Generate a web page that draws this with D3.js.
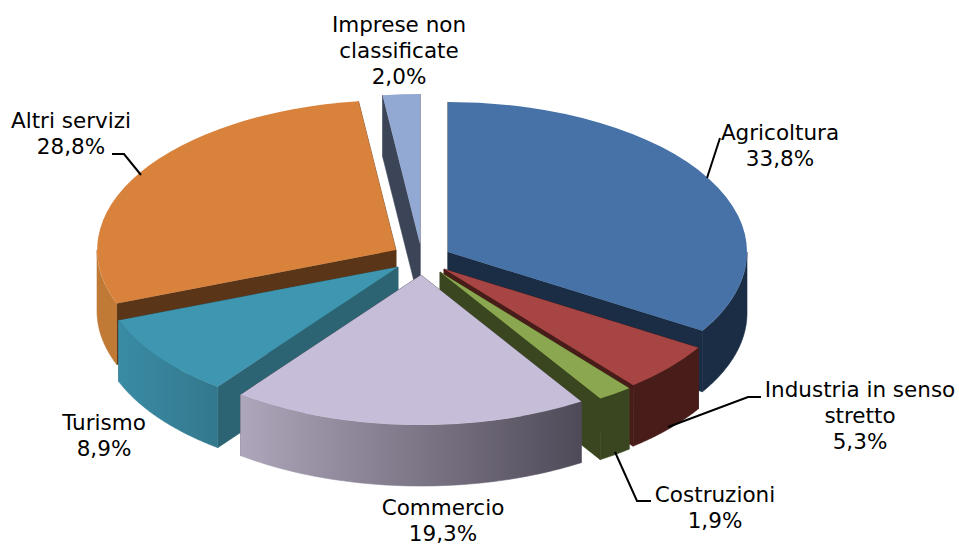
<!DOCTYPE html>
<html>
<head>
  <meta charset="UTF-8">
  <style>
    html, body { margin: 0; background: #fff; }
    svg { display: block; }
    text { font-family: "DejaVu Sans", Verdana, sans-serif; font-size: 21.5px; fill: #000; text-anchor: middle; }
  </style>
</head>
<body>
<svg></svg>
<script src="https://d3js.org/d3.v7.min.js"></script>

<script>

// Data
const categories = ["Agricoltura", "Industria in senso stretto", "Costruzioni", "Commercio", "Turismo", "Altri servizi", "Imprese non classificate"];
const shares = [33.8, 5.3, 1.9, 19.3, 8.9, 28.8, 2.0];
const labelText = ["33,8%", "5,3%", "1,9%", "19,3%", "8,9%", "28,8%", "2,0%"];

// Styling and layout, same order as categories
const topColors = ["#4672a8", "#a74544", "#8ba74f", "#c6bed8", "#3f96b0", "#d9823c", "#92a9d3"];
const faceColors = ["#1a2d45", "#471c19", "#3a461f", "#4f4a58", "#2c6474", "#5a3517", "#3c4558"];
const wallStops = [
    ["#1a2d45", "#1a2d45"],
    ["#471c19", "#471c19"],
    ["#3a461f", "#3a461f"],
    ["#aea6ba", "#4f4a58"],
    ["#3a8ba5", "#33788c"],
    ["#c07a35", "#c07a35"],
    ["#3c4558", "#3c4558"]
];
// where each exploded wedge has its point
const apex = [[448, 252], [444, 269], [440, 272], [421, 275], [398, 267], [396, 250], [420, 244]];
const labelLines = [
    ["Agricoltura", labelText[0]],
    ["Industria in senso", "stretto", labelText[1]],
    ["Costruzioni", labelText[2]],
    ["Commercio", labelText[3]],
    ["Turismo", labelText[4]],
    ["Altri servizi", labelText[5]],
    ["Imprese non", "classificate", labelText[6]]
];
const labelPos = [[780, 140], [860, 397], [715, 502], [443, 515], [104, 430], [71, 128], [399, 32]];
const leaders = [
    [[720, 138], [707, 178]],
    [[761, 397], [748, 397], [668, 427]],
    [[651, 501], [637, 501], [615, 452]],
    [],
    [],
    [[112, 154], [124, 154], [141, 175]],
    []
];
// back to front
const drawOrder = [5, 6, 0, 4, 1, 2, 3];

const width = 959, height = 545;
const rx = 299, ry = 150, depth = 61;

let svg = d3.select("svg")
    .attr("width", width)
    .attr("height", height)
    .attr("viewBox", "0 0 " + width + " " + height);

const slices = d3.pie().sort(null).startAngle(0).endAngle(2 * Math.PI)(shares);

// d3 pie angles: 0 at the top, clockwise. Squash the circle into an ellipse.
const unitArc = d3.arc().innerRadius(0).outerRadius(1);
const line = d3.line();

function rim(i, a, drop) {
    return [apex[i][0] + rx * Math.sin(a), apex[i][1] - ry * Math.cos(a) + drop];
}

function wallPoints(i, a0, a1) {
    const angles = d3.range(0, 61).map(k => a0 + (a1 - a0) * k / 60);
    return angles.map(a => rim(i, a, 0)).concat(angles.reverse().map(a => rim(i, a, depth)));
}

function radialFace(i, a) {
    const c = apex[i], p = rim(i, a, 0);
    return [c, p, [p[0], p[1] + depth], [c[0], c[1] + depth]];
}

const defs = svg.append("defs");
slices.forEach((s, i) => {
    const x0 = rim(i, Math.max(s.startAngle, Math.PI / 2), 0)[0];
    const x1 = rim(i, Math.min(s.endAngle, 3 * Math.PI / 2), 0)[0];
    const g = defs.append("linearGradient")
        .attr("id", "wall" + i)
        .attr("gradientUnits", "userSpaceOnUse")
        .attr("x1", Math.min(x0, x1)).attr("x2", Math.max(x0, x1))
        .attr("y1", 0).attr("y2", 0);
    g.append("stop").attr("offset", 0).attr("stop-color", wallStops[i][0]);
    g.append("stop").attr("offset", 1).attr("stop-color", wallStops[i][1]);
});

const pie3d = svg.append("g").attr("id", "pie");

drawOrder.forEach(i => {
    const s = slices[i];
    const g = pie3d.append("g").attr("class", "slice").attr("data-name", categories[i]);

    [s.startAngle, s.endAngle].forEach(a => {
        g.append("path")
            .attr("d", line(radialFace(i, a)) + "Z")
            .style("fill", faceColors[i])
            .style("stroke", faceColors[i])
            .style("stroke-width", 0.6);
    });

    // outer wall only where it faces us
    const a0 = Math.max(s.startAngle, Math.PI / 2);
    const a1 = Math.min(s.endAngle, 3 * Math.PI / 2);
    if (a1 > a0) {
        g.append("path")
            .attr("d", line(wallPoints(i, a0, a1)) + "Z")
            .style("fill", "url(#wall" + i + ")")
            .style("stroke", "url(#wall" + i + ")")
            .style("stroke-width", 0.6);
    }

    g.append("path")
        .attr("d", unitArc({startAngle: s.startAngle, endAngle: s.endAngle}))
        .attr("transform", "translate(" + apex[i] + ") scale(" + rx + "," + ry + ")")
        .style("fill", topColors[i]);
});

// leader lines
svg.append("g").selectAll("path")
    .data(leaders.filter(d => d.length))
    .enter()
    .append("path")
    .attr("d", line)
    .style("fill", "none")
    .style("stroke", "#000")
    .style("stroke-width", 2);

// labels
const labels = svg.append("g").selectAll("text")
    .data(labelLines)
    .enter()
    .append("text")
    .attr("x", (d, i) => labelPos[i][0])
    .attr("y", (d, i) => labelPos[i][1]);

labels.selectAll("tspan")
    .data(d => d)
    .enter()
    .append("tspan")
    .attr("x", function () { return d3.select(this.parentNode).attr("x"); })
    .attr("dy", (d, i) => i ? 26 : 0)
    .text(d => d);

</script>

</body>
</html>
